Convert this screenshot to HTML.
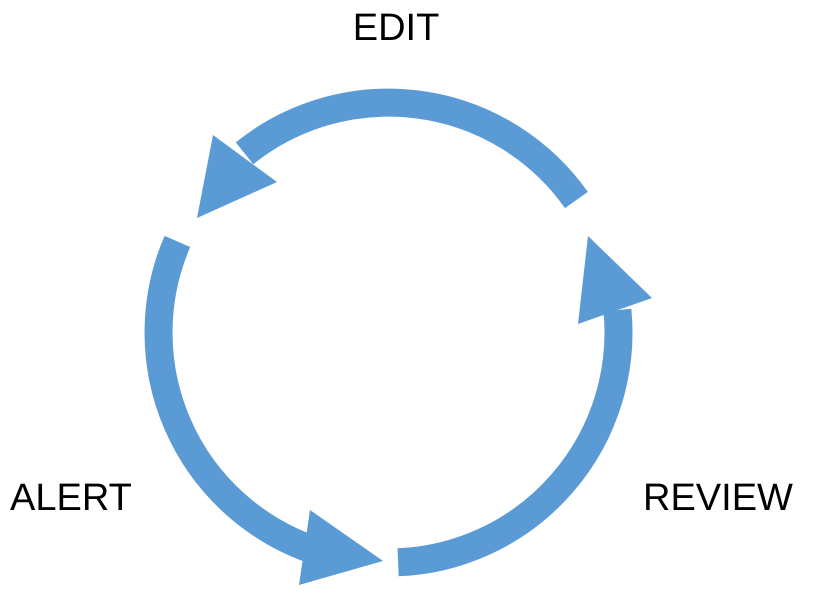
<!DOCTYPE html>
<html><head><meta charset="utf-8"><style>
html,body{margin:0;padding:0;background:#fff;}
svg{display:block;}
text{font-family:"Liberation Sans",sans-serif;font-size:38px;fill:#000;}
</style></head><body>
<svg width="813" height="600" viewBox="0 0 813 600" xmlns="http://www.w3.org/2000/svg">
<g fill="none" stroke="#5b9bd5" stroke-width="28">
<path d="M576.4,200 A230,230 0 0 0 244.5,153.3"/>
<path d="M177.4,241.4 A230,230 0 0 0 311.7,549.4"/>
<path d="M398.1,562.3 A230,230 0 0 0 617.4,310.1"/>
</g>
<g fill="#5b9bd5">
<polygon points="213,135 197,218 277,182"/>
<polygon points="310,510 383,561 299,585"/>
<polygon points="588,236 578,324 652,298"/>
</g>
<text x="396" y="40" text-anchor="middle">EDIT</text>
<text x="10" y="510">ALERT</text>
<text x="643" y="510">REVIEW</text>
</svg>
</body></html>
